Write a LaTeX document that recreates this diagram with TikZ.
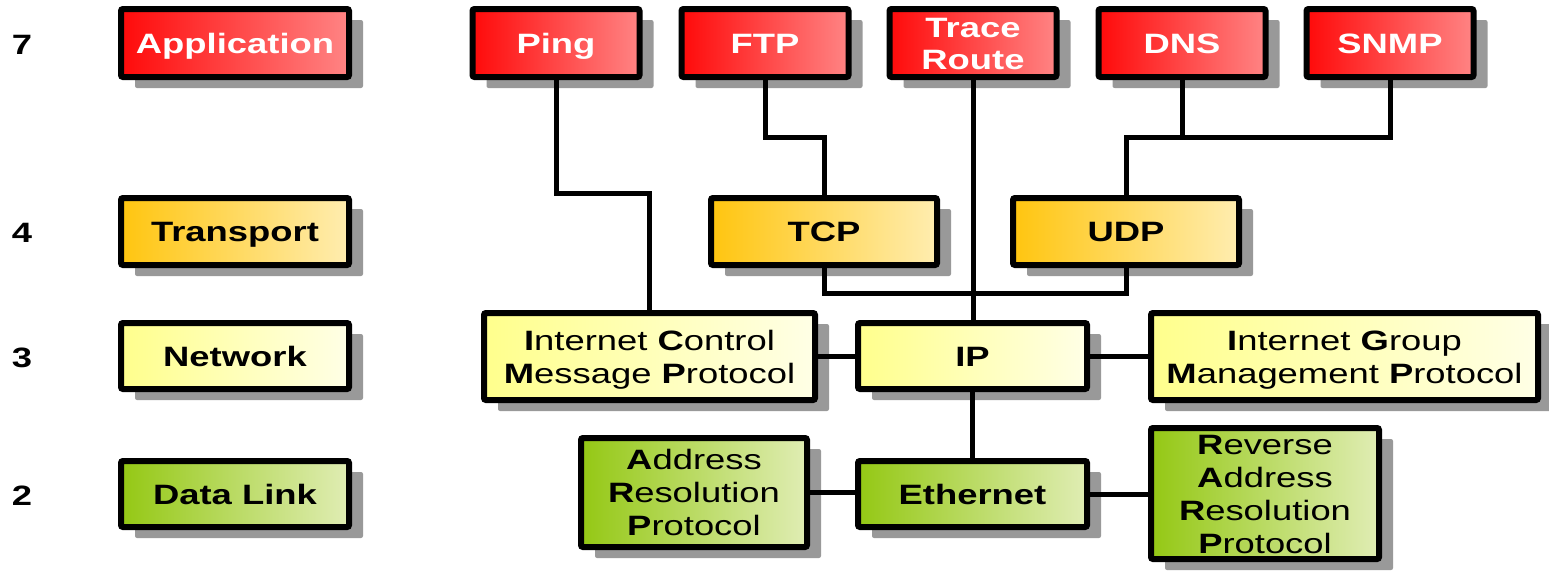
\documentclass[tikz,border=0pt]{standalone}
\usepackage{fontspec}
\setmainfont{Liberation Sans}[FakeStretch=1.3]
\usetikzlibrary{shadows,calc}
\definecolor{shadowgray}{HTML}{999999}
\definecolor{redL}{HTML}{FF0A0A}
\definecolor{redR}{HTML}{FF8484}
\definecolor{orL}{HTML}{FFC50F}
\definecolor{orR}{HTML}{FFEDB0}
\definecolor{yeL}{HTML}{FFFF8C}
\definecolor{yeR}{HTML}{FFFFE6}
\definecolor{grL}{HTML}{94C814}
\definecolor{grR}{HTML}{E0EDB4}
\tikzset{
  box/.style={draw=black, line width=6pt, rounded corners=2pt, inner sep=0pt, align=center,
    font=\fontsize{28}{33}\selectfont, text height=20pt, text depth=0pt,
    general shadow={shadow xshift=14pt, shadow yshift=-11pt, fill=shadowgray}},
  lines/.style={text height=#1, text depth=0pt},
  appbox/.style={box, left color=redL, right color=redR, text=white, font=\fontsize{28}{32}\selectfont\bfseries, minimum width=167pt, minimum height=68pt},
  trbox/.style={box, left color=orL, right color=orR, font=\fontsize{28}{33}\selectfont\bfseries},
  netbox/.style={box, left color=yeL, right color=yeR},
  dlbox/.style={box, left color=grL, right color=grR},
  layernum/.style={font=\fontsize{28}{33}\selectfont\bfseries, inner sep=0pt, text height=20pt, text depth=0pt},
  conn/.style={draw=black, line width=5pt}
}
\begin{document}
\begin{tikzpicture}[x=1pt,y=-1pt]
\useasboundingbox (0,0) rectangle (1549,571);
% layer numbers
\node[layernum] (n7) at (22,44) {7};
\node[layernum] (n4) at (22,232) {4};
\node[layernum] (n3) at (22,357) {3};
\node[layernum] (n2) at (22,495) {2};
% layer boxes
\node[appbox, minimum width=228pt] (app) at (235,43) {Application};
\node[trbox, minimum width=228pt, minimum height=67pt] (trans) at (235,231.5) {Transport};
\node[netbox, font=\fontsize{28}{33}\selectfont\bfseries, minimum width=228pt, minimum height=66pt] (net) at (235,356) {Network};
\node[dlbox, font=\fontsize{28}{33}\selectfont\bfseries, minimum width=228pt, minimum height=66pt] (dl) at (235,494) {Data Link};
% application protocols
\node[appbox] (ping) at (556,43) {Ping};
\node[appbox] (ftp) at (765,43) {FTP};
\node[appbox, lines=52pt] (trace) at (973,43) {Trace\\Route};
\node[appbox] (dns) at (1182,43) {DNS};
\node[appbox] (snmp) at (1390,43) {SNMP};
% transport
\node[trbox, minimum width=226pt, minimum height=67pt] (tcp) at (824,231.5) {TCP};
\node[trbox, minimum width=226pt, minimum height=67pt] (udp) at (1126,231.5) {UDP};
% network
\node[netbox, lines=53pt, minimum width=331pt, minimum height=87pt] (icmp) at (649.5,356.5) {\textbf{I}nternet \textbf{C}ontrol\\\textbf{M}essage \textbf{P}rotocol};
\node[netbox, font=\fontsize{28}{33}\selectfont\bfseries, minimum width=229pt, minimum height=66pt] (ip) at (972.5,356) {IP};
\node[netbox, lines=53pt, minimum width=387pt, minimum height=87pt] (igmp) at (1344.5,356.5) {\textbf{I}nternet \textbf{G}roup\\\textbf{M}anagement \textbf{P}rotocol};
% data link
\node[dlbox, lines=86pt, minimum width=226pt, minimum height=109pt] (arp) at (694,492.5) {\textbf{A}ddress\\\textbf{R}esolution\\\textbf{P}rotocol};
\node[dlbox, font=\fontsize{28}{33}\selectfont\bfseries, minimum width=229pt, minimum height=66pt] (eth) at (972.5,494) {Ethernet};
\node[dlbox, lines=119pt, minimum width=228pt, minimum height=131pt] (rarp) at (1265,493.5) {\textbf{R}everse\\\textbf{A}ddress\\\textbf{R}esolution\\\textbf{P}rotocol};
% junction levels
\coordinate (h1) at (0,137);
\coordinate (h2) at (0,193);
\coordinate (h3) at (0,293);
% connectors
\draw[conn] (ping.south) |- (icmp.north |- h2) -- (icmp.north);
\draw[conn] (ftp.south) |- (tcp.north |- h1) -- (tcp.north);
\draw[conn] (snmp.south) |- (udp.north |- h1) -- (udp.north);
\draw[conn] (dns.south) -- (dns.south |- h1);
\draw[conn] (trace.south) -- (trace.south |- ip.north);
\draw[conn] (tcp.south) |- (udp.south |- h3) -- (udp.south);
\draw[conn] (icmp.east) -- (icmp.east -| ip.west);
\draw[conn] (ip.east) -- (ip.east -| igmp.west);
\draw[conn] (ip.south) -- (eth.north);
\draw[conn] (arp.east) -- (arp.east -| eth.west);
\draw[conn] (eth.east) -- (eth.east -| rarp.west);
\end{tikzpicture}
\end{document}
